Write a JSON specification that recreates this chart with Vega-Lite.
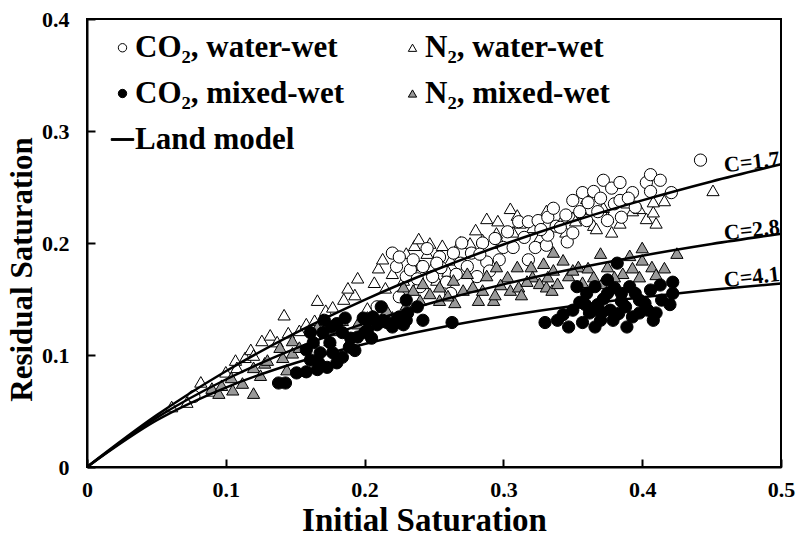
{
  "$schema": "https://vega.github.io/schema/vega-lite/v6.json",
  "width": 694,
  "height": 448,
  "autosize": "none",
  "padding": {"left": 87, "top": 19, "right": 15, "bottom": 73},
  "background": "white",
  "config": {
    "font": "Liberation Serif",
    "view": {"stroke": "black", "strokeWidth": 2},
    "axis": {
      "grid": false,
      "domainColor": "black",
      "domainWidth": 2,
      "ticks": true,
      "tickColor": "black",
      "tickWidth": 2,
      "tickSize": -8,
      "labelFlush": false,
      "labelFont": "Liberation Serif",
      "labelFontWeight": "bold",
      "labelFontSize": 22,
      "labelColor": "black",
      "titleFont": "Liberation Serif",
      "titleFontWeight": "bold",
      "titleFontSize": 31,
      "titleColor": "black"
    },
    "legend": {
      "labelFont": "Liberation Serif", "labelFontWeight": "bold", "labelFontSize": 31, "labelColor": "black", "labelLimit": 400,
      "labelOffset": -3, "symbolSize": 70, "rowPadding": 14, "columnPadding": 52,
      "symbolStrokeColor": "black", "symbolStrokeWidth": 1
    }
  },
  "datasets": {
    "pts": [
      {"g":"N₂, water-wet","x":0.061,"y":0.054},{"g":"N₂, water-wet","x":0.072,"y":0.058},{"g":"N₂, water-wet","x":0.082,"y":0.076},{"g":"N₂, water-wet","x":0.09,"y":0.068},{"g":"N₂, water-wet","x":0.1,"y":0.085},{"g":"N₂, water-wet","x":0.107,"y":0.0955},{"g":"N₂, water-wet","x":0.108,"y":0.089},{"g":"N₂, water-wet","x":0.114,"y":0.098},{"g":"N₂, water-wet","x":0.118,"y":0.105},{"g":"N₂, water-wet","x":0.12,"y":0.1},{"g":"N₂, water-wet","x":0.126,"y":0.113},{"g":"N₂, water-wet","x":0.132,"y":0.118},{"g":"N₂, water-wet","x":0.137,"y":0.112},{"g":"N₂, water-wet","x":0.142,"y":0.136},{"g":"N₂, water-wet","x":0.145,"y":0.12},{"g":"N₂, water-wet","x":0.153,"y":0.122},{"g":"N₂, water-wet","x":0.158,"y":0.128},{"g":"N₂, water-wet","x":0.164,"y":0.131},{"g":"N₂, water-wet","x":0.166,"y":0.149},{"g":"N₂, water-wet","x":0.172,"y":0.14},{"g":"N₂, water-wet","x":0.177,"y":0.143},{"g":"N₂, water-wet","x":0.185,"y":0.15},{"g":"N₂, water-wet","x":0.193,"y":0.154},{"g":"N₂, water-wet","x":0.195,"y":0.169},{"g":"N₂, water-wet","x":0.202,"y":0.142},{"g":"N₂, water-wet","x":0.207,"y":0.165},{"g":"N₂, water-wet","x":0.21,"y":0.178},{"g":"N₂, water-wet","x":0.215,"y":0.16},{"g":"N₂, water-wet","x":0.22,"y":0.173},{"g":"N₂, water-wet","x":0.228,"y":0.167},{"g":"N₂, water-wet","x":0.23,"y":0.191},{"g":"N₂, water-wet","x":0.236,"y":0.198},{"g":"N₂, water-wet","x":0.24,"y":0.18},{"g":"N₂, water-wet","x":0.245,"y":0.191},{"g":"N₂, water-wet","x":0.247,"y":0.2},{"g":"N₂, water-wet","x":0.249,"y":0.179},{"g":"N₂, water-wet","x":0.252,"y":0.167},{"g":"N₂, water-wet","x":0.256,"y":0.198},{"g":"N₂, water-wet","x":0.262,"y":0.185},{"g":"N₂, water-wet","x":0.269,"y":0.201},{"g":"N₂, water-wet","x":0.276,"y":0.2},{"g":"N₂, water-wet","x":0.28,"y":0.212},{"g":"N₂, water-wet","x":0.285,"y":0.203},{"g":"N₂, water-wet","x":0.288,"y":0.222},{"g":"N₂, water-wet","x":0.295,"y":0.209},{"g":"N₂, water-wet","x":0.296,"y":0.22},{"g":"N₂, water-wet","x":0.305,"y":0.231},{"g":"N₂, water-wet","x":0.31,"y":0.225},{"g":"N₂, water-wet","x":0.307,"y":0.21},{"g":"N₂, water-wet","x":0.312,"y":0.218},{"g":"N₂, water-wet","x":0.321,"y":0.214},{"g":"N₂, water-wet","x":0.331,"y":0.229},{"g":"N₂, water-wet","x":0.341,"y":0.218},{"g":"N₂, water-wet","x":0.35,"y":0.223},{"g":"N₂, water-wet","x":0.352,"y":0.22},{"g":"N₂, water-wet","x":0.357,"y":0.246},{"g":"N₂, water-wet","x":0.357,"y":0.228},{"g":"N₂, water-wet","x":0.36,"y":0.24},{"g":"N₂, water-wet","x":0.365,"y":0.216},{"g":"N₂, water-wet","x":0.367,"y":0.213},{"g":"N₂, water-wet","x":0.375,"y":0.223},{"g":"N₂, water-wet","x":0.378,"y":0.21},{"g":"N₂, water-wet","x":0.384,"y":0.218},{"g":"N₂, water-wet","x":0.389,"y":0.236},{"g":"N₂, water-wet","x":0.393,"y":0.229},{"g":"N₂, water-wet","x":0.398,"y":0.231},{"g":"N₂, water-wet","x":0.403,"y":0.222},{"g":"N₂, water-wet","x":0.408,"y":0.228},{"g":"N₂, water-wet","x":0.408,"y":0.237},{"g":"N₂, water-wet","x":0.416,"y":0.238},{"g":"N₂, water-wet","x":0.451,"y":0.247},{"g":"N₂, water-wet","x":0.17,"y":0.132},{"g":"N₂, water-wet","x":0.188,"y":0.16},{"g":"N₂, water-wet","x":0.213,"y":0.186},{"g":"N₂, water-wet","x":0.239,"y":0.204},{"g":"N₂, water-wet","x":0.26,"y":0.175},{"g":"N₂, water-wet","x":0.298,"y":0.2},{"g":"N₂, water-wet","x":0.326,"y":0.205},{"g":"N₂, water-wet","x":0.345,"y":0.21},{"g":"N₂, water-wet","x":0.372,"y":0.232},{"g":"N₂, water-wet","x":0.41,"y":0.218},

      {"g":"CO₂, water-wet","x":0.077,"y":0.063},{"g":"CO₂, water-wet","x":0.209,"y":0.143},{"g":"CO₂, water-wet","x":0.22,"y":0.191},{"g":"CO₂, water-wet","x":0.223,"y":0.179},{"g":"CO₂, water-wet","x":0.225,"y":0.152},{"g":"CO₂, water-wet","x":0.225,"y":0.1875},{"g":"CO₂, water-wet","x":0.23,"y":0.17},{"g":"CO₂, water-wet","x":0.233,"y":0.176},{"g":"CO₂, water-wet","x":0.235,"y":0.185},{"g":"CO₂, water-wet","x":0.24,"y":0.161},{"g":"CO₂, water-wet","x":0.242,"y":0.179},{"g":"CO₂, water-wet","x":0.245,"y":0.195},{"g":"CO₂, water-wet","x":0.249,"y":0.17},{"g":"CO₂, water-wet","x":0.254,"y":0.1875},{"g":"CO₂, water-wet","x":0.255,"y":0.178},{"g":"CO₂, water-wet","x":0.259,"y":0.165},{"g":"CO₂, water-wet","x":0.262,"y":0.155},{"g":"CO₂, water-wet","x":0.264,"y":0.191},{"g":"CO₂, water-wet","x":0.269,"y":0.182},{"g":"CO₂, water-wet","x":0.27,"y":0.2},{"g":"CO₂, water-wet","x":0.274,"y":0.179},{"g":"CO₂, water-wet","x":0.277,"y":0.191},{"g":"CO₂, water-wet","x":0.281,"y":0.17},{"g":"CO₂, water-wet","x":0.285,"y":0.2},{"g":"CO₂, water-wet","x":0.288,"y":0.183},{"g":"CO₂, water-wet","x":0.29,"y":0.175},{"g":"CO₂, water-wet","x":0.294,"y":0.204},{"g":"CO₂, water-wet","x":0.297,"y":0.185},{"g":"CO₂, water-wet","x":0.3,"y":0.196},{"g":"CO₂, water-wet","x":0.307,"y":0.196},{"g":"CO₂, water-wet","x":0.311,"y":0.219},{"g":"CO₂, water-wet","x":0.315,"y":0.205},{"g":"CO₂, water-wet","x":0.318,"y":0.219},{"g":"CO₂, water-wet","x":0.318,"y":0.185},{"g":"CO₂, water-wet","x":0.323,"y":0.196},{"g":"CO₂, water-wet","x":0.325,"y":0.22},{"g":"CO₂, water-wet","x":0.331,"y":0.198},{"g":"CO₂, water-wet","x":0.332,"y":0.207},{"g":"CO₂, water-wet","x":0.332,"y":0.223},{"g":"CO₂, water-wet","x":0.336,"y":0.231},{"g":"CO₂, water-wet","x":0.338,"y":0.215},{"g":"CO₂, water-wet","x":0.341,"y":0.214},{"g":"CO₂, water-wet","x":0.345,"y":0.225},{"g":"CO₂, water-wet","x":0.346,"y":0.201},{"g":"CO₂, water-wet","x":0.35,"y":0.238},{"g":"CO₂, water-wet","x":0.35,"y":0.209},{"g":"CO₂, water-wet","x":0.357,"y":0.245},{"g":"CO₂, water-wet","x":0.36,"y":0.22},{"g":"CO₂, water-wet","x":0.361,"y":0.236},{"g":"CO₂, water-wet","x":0.365,"y":0.246},{"g":"CO₂, water-wet","x":0.368,"y":0.228},{"g":"CO₂, water-wet","x":0.37,"y":0.24},{"g":"CO₂, water-wet","x":0.372,"y":0.256},{"g":"CO₂, water-wet","x":0.375,"y":0.22},{"g":"CO₂, water-wet","x":0.378,"y":0.249},{"g":"CO₂, water-wet","x":0.38,"y":0.235},{"g":"CO₂, water-wet","x":0.384,"y":0.254},{"g":"CO₂, water-wet","x":0.384,"y":0.238},{"g":"CO₂, water-wet","x":0.385,"y":0.223},{"g":"CO₂, water-wet","x":0.393,"y":0.245},{"g":"CO₂, water-wet","x":0.395,"y":0.232},{"g":"CO₂, water-wet","x":0.403,"y":0.254},{"g":"CO₂, water-wet","x":0.406,"y":0.261},{"g":"CO₂, water-wet","x":0.406,"y":0.246},{"g":"CO₂, water-wet","x":0.413,"y":0.256},{"g":"CO₂, water-wet","x":0.421,"y":0.245},{"g":"CO₂, water-wet","x":0.442,"y":0.274},{"g":"CO₂, water-wet","x":0.238,"y":0.168},{"g":"CO₂, water-wet","x":0.252,"y":0.182},{"g":"CO₂, water-wet","x":0.266,"y":0.172},{"g":"CO₂, water-wet","x":0.283,"y":0.19},{"g":"CO₂, water-wet","x":0.303,"y":0.21},{"g":"CO₂, water-wet","x":0.327,"y":0.212},{"g":"CO₂, water-wet","x":0.355,"y":0.228},{"g":"CO₂, water-wet","x":0.39,"y":0.24},

      {"g":"N₂, mixed-wet","x":0.09,"y":0.0705},{"g":"N₂, mixed-wet","x":0.095,"y":0.066},{"g":"N₂, mixed-wet","x":0.097,"y":0.073},{"g":"N₂, mixed-wet","x":0.104,"y":0.08},{"g":"N₂, mixed-wet","x":0.105,"y":0.069},{"g":"N₂, mixed-wet","x":0.112,"y":0.075},{"g":"N₂, mixed-wet","x":0.12,"y":0.066},{"g":"N₂, mixed-wet","x":0.12,"y":0.089},{"g":"N₂, mixed-wet","x":0.125,"y":0.082},{"g":"N₂, mixed-wet","x":0.128,"y":0.093},{"g":"N₂, mixed-wet","x":0.13,"y":0.0955},{"g":"N₂, mixed-wet","x":0.139,"y":0.107},{"g":"N₂, mixed-wet","x":0.141,"y":0.098},{"g":"N₂, mixed-wet","x":0.144,"y":0.087},{"g":"N₂, mixed-wet","x":0.148,"y":0.102},{"g":"N₂, mixed-wet","x":0.148,"y":0.113},{"g":"N₂, mixed-wet","x":0.153,"y":0.107},{"g":"N₂, mixed-wet","x":0.163,"y":0.113},{"g":"N₂, mixed-wet","x":0.166,"y":0.125},{"g":"N₂, mixed-wet","x":0.175,"y":0.113},{"g":"N₂, mixed-wet","x":0.177,"y":0.122},{"g":"N₂, mixed-wet","x":0.184,"y":0.131},{"g":"N₂, mixed-wet","x":0.195,"y":0.128},{"g":"N₂, mixed-wet","x":0.202,"y":0.134},{"g":"N₂, mixed-wet","x":0.216,"y":0.14},{"g":"N₂, mixed-wet","x":0.22,"y":0.134},{"g":"N₂, mixed-wet","x":0.228,"y":0.161},{"g":"N₂, mixed-wet","x":0.23,"y":0.145},{"g":"N₂, mixed-wet","x":0.235,"y":0.158},{"g":"N₂, mixed-wet","x":0.24,"y":0.149},{"g":"N₂, mixed-wet","x":0.242,"y":0.164},{"g":"N₂, mixed-wet","x":0.254,"y":0.161},{"g":"N₂, mixed-wet","x":0.254,"y":0.149},{"g":"N₂, mixed-wet","x":0.264,"y":0.167},{"g":"N₂, mixed-wet","x":0.265,"y":0.147},{"g":"N₂, mixed-wet","x":0.271,"y":0.158},{"g":"N₂, mixed-wet","x":0.274,"y":0.173},{"g":"N₂, mixed-wet","x":0.278,"y":0.161},{"g":"N₂, mixed-wet","x":0.282,"y":0.149},{"g":"N₂, mixed-wet","x":0.285,"y":0.158},{"g":"N₂, mixed-wet","x":0.288,"y":0.171},{"g":"N₂, mixed-wet","x":0.293,"y":0.149},{"g":"N₂, mixed-wet","x":0.294,"y":0.154},{"g":"N₂, mixed-wet","x":0.295,"y":0.179},{"g":"N₂, mixed-wet","x":0.303,"y":0.17},{"g":"N₂, mixed-wet","x":0.305,"y":0.158},{"g":"N₂, mixed-wet","x":0.31,"y":0.179},{"g":"N₂, mixed-wet","x":0.311,"y":0.161},{"g":"N₂, mixed-wet","x":0.313,"y":0.154},{"g":"N₂, mixed-wet","x":0.32,"y":0.179},{"g":"N₂, mixed-wet","x":0.321,"y":0.17},{"g":"N₂, mixed-wet","x":0.326,"y":0.164},{"g":"N₂, mixed-wet","x":0.329,"y":0.182},{"g":"N₂, mixed-wet","x":0.331,"y":0.161},{"g":"N₂, mixed-wet","x":0.332,"y":0.17},{"g":"N₂, mixed-wet","x":0.335,"y":0.158},{"g":"N₂, mixed-wet","x":0.336,"y":0.192},{"g":"N₂, mixed-wet","x":0.336,"y":0.176},{"g":"N₂, mixed-wet","x":0.339,"y":0.164},{"g":"N₂, mixed-wet","x":0.343,"y":0.185},{"g":"N₂, mixed-wet","x":0.347,"y":0.171},{"g":"N₂, mixed-wet","x":0.354,"y":0.179},{"g":"N₂, mixed-wet","x":0.357,"y":0.165},{"g":"N₂, mixed-wet","x":0.361,"y":0.178},{"g":"N₂, mixed-wet","x":0.365,"y":0.17},{"g":"N₂, mixed-wet","x":0.37,"y":0.191},{"g":"N₂, mixed-wet","x":0.371,"y":0.164},{"g":"N₂, mixed-wet","x":0.375,"y":0.179},{"g":"N₂, mixed-wet","x":0.386,"y":0.173},{"g":"N₂, mixed-wet","x":0.391,"y":0.189},{"g":"N₂, mixed-wet","x":0.393,"y":0.178},{"g":"N₂, mixed-wet","x":0.398,"y":0.17},{"g":"N₂, mixed-wet","x":0.4,"y":0.196},{"g":"N₂, mixed-wet","x":0.4,"y":0.185},{"g":"N₂, mixed-wet","x":0.407,"y":0.179},{"g":"N₂, mixed-wet","x":0.416,"y":0.178},{"g":"N₂, mixed-wet","x":0.425,"y":0.191},{"g":"N₂, mixed-wet","x":0.247,"y":0.155},{"g":"N₂, mixed-wet","x":0.26,"y":0.153},{"g":"N₂, mixed-wet","x":0.298,"y":0.163},{"g":"N₂, mixed-wet","x":0.317,"y":0.166},{"g":"N₂, mixed-wet","x":0.35,"y":0.176},{"g":"N₂, mixed-wet","x":0.38,"y":0.17},{"g":"N₂, mixed-wet","x":0.41,"y":0.172},

      {"g":"CO₂, mixed-wet","x":0.138,"y":0.075},{"g":"CO₂, mixed-wet","x":0.143,"y":0.075},{"g":"CO₂, mixed-wet","x":0.151,"y":0.084},{"g":"CO₂, mixed-wet","x":0.158,"y":0.085},{"g":"CO₂, mixed-wet","x":0.158,"y":0.1045},{"g":"CO₂, mixed-wet","x":0.161,"y":0.0955},{"g":"CO₂, mixed-wet","x":0.161,"y":0.12},{"g":"CO₂, mixed-wet","x":0.163,"y":0.111},{"g":"CO₂, mixed-wet","x":0.166,"y":0.087},{"g":"CO₂, mixed-wet","x":0.168,"y":0.102},{"g":"CO₂, mixed-wet","x":0.17,"y":0.12},{"g":"CO₂, mixed-wet","x":0.171,"y":0.131},{"g":"CO₂, mixed-wet","x":0.173,"y":0.089},{"g":"CO₂, mixed-wet","x":0.176,"y":0.125},{"g":"CO₂, mixed-wet","x":0.175,"y":0.111},{"g":"CO₂, mixed-wet","x":0.177,"y":0.102},{"g":"CO₂, mixed-wet","x":0.18,"y":0.128},{"g":"CO₂, mixed-wet","x":0.184,"y":0.098},{"g":"CO₂, mixed-wet","x":0.184,"y":0.12},{"g":"CO₂, mixed-wet","x":0.186,"y":0.133},{"g":"CO₂, mixed-wet","x":0.19,"y":0.115},{"g":"CO₂, mixed-wet","x":0.189,"y":0.107},{"g":"CO₂, mixed-wet","x":0.195,"y":0.116},{"g":"CO₂, mixed-wet","x":0.199,"y":0.133},{"g":"CO₂, mixed-wet","x":0.2,"y":0.12},{"g":"CO₂, mixed-wet","x":0.202,"y":0.131},{"g":"CO₂, mixed-wet","x":0.202,"y":0.122},{"g":"CO₂, mixed-wet","x":0.206,"y":0.134},{"g":"CO₂, mixed-wet","x":0.209,"y":0.127},{"g":"CO₂, mixed-wet","x":0.212,"y":0.143},{"g":"CO₂, mixed-wet","x":0.213,"y":0.131},{"g":"CO₂, mixed-wet","x":0.216,"y":0.129},{"g":"CO₂, mixed-wet","x":0.22,"y":0.125},{"g":"CO₂, mixed-wet","x":0.223,"y":0.131},{"g":"CO₂, mixed-wet","x":0.225,"y":0.134},{"g":"CO₂, mixed-wet","x":0.228,"y":0.127},{"g":"CO₂, mixed-wet","x":0.23,"y":0.149},{"g":"CO₂, mixed-wet","x":0.23,"y":0.131},{"g":"CO₂, mixed-wet","x":0.231,"y":0.1375},{"g":"CO₂, mixed-wet","x":0.238,"y":0.143},{"g":"CO₂, mixed-wet","x":0.242,"y":0.131},{"g":"CO₂, mixed-wet","x":0.263,"y":0.129},{"g":"CO₂, mixed-wet","x":0.167,"y":0.093},{"g":"CO₂, mixed-wet","x":0.18,"y":0.093},{"g":"CO₂, mixed-wet","x":0.193,"y":0.104},{"g":"CO₂, mixed-wet","x":0.205,"y":0.115},
      {"g":"CO₂, mixed-wet","x":0.33,"y":0.129},{"g":"CO₂, mixed-wet","x":0.339,"y":0.131},{"g":"CO₂, mixed-wet","x":0.343,"y":0.136},{"g":"CO₂, mixed-wet","x":0.35,"y":0.14},{"g":"CO₂, mixed-wet","x":0.353,"y":0.161},{"g":"CO₂, mixed-wet","x":0.355,"y":0.147},{"g":"CO₂, mixed-wet","x":0.357,"y":0.129},{"g":"CO₂, mixed-wet","x":0.36,"y":0.155},{"g":"CO₂, mixed-wet","x":0.362,"y":0.1375},{"g":"CO₂, mixed-wet","x":0.365,"y":0.14},{"g":"CO₂, mixed-wet","x":0.366,"y":0.161},{"g":"CO₂, mixed-wet","x":0.366,"y":0.125},{"g":"CO₂, mixed-wet","x":0.368,"y":0.145},{"g":"CO₂, mixed-wet","x":0.37,"y":0.131},{"g":"CO₂, mixed-wet","x":0.372,"y":0.15},{"g":"CO₂, mixed-wet","x":0.375,"y":0.155},{"g":"CO₂, mixed-wet","x":0.375,"y":0.167},{"g":"CO₂, mixed-wet","x":0.377,"y":0.14},{"g":"CO₂, mixed-wet","x":0.379,"y":0.131},{"g":"CO₂, mixed-wet","x":0.38,"y":0.16},{"g":"CO₂, mixed-wet","x":0.382,"y":0.182},{"g":"CO₂, mixed-wet","x":0.385,"y":0.155},{"g":"CO₂, mixed-wet","x":0.385,"y":0.148},{"g":"CO₂, mixed-wet","x":0.388,"y":0.143},{"g":"CO₂, mixed-wet","x":0.389,"y":0.125},{"g":"CO₂, mixed-wet","x":0.391,"y":0.161},{"g":"CO₂, mixed-wet","x":0.393,"y":0.134},{"g":"CO₂, mixed-wet","x":0.395,"y":0.155},{"g":"CO₂, mixed-wet","x":0.398,"y":0.149},{"g":"CO₂, mixed-wet","x":0.398,"y":0.1375},{"g":"CO₂, mixed-wet","x":0.404,"y":0.14},{"g":"CO₂, mixed-wet","x":0.406,"y":0.158},{"g":"CO₂, mixed-wet","x":0.408,"y":0.131},{"g":"CO₂, mixed-wet","x":0.41,"y":0.1375},{"g":"CO₂, mixed-wet","x":0.413,"y":0.1625},{"g":"CO₂, mixed-wet","x":0.414,"y":0.149},{"g":"CO₂, mixed-wet","x":0.42,"y":0.145},{"g":"CO₂, mixed-wet","x":0.422,"y":0.165},{"g":"CO₂, mixed-wet","x":0.422,"y":0.155},{"g":"CO₂, mixed-wet","x":0.359,"y":0.145},{"g":"CO₂, mixed-wet","x":0.371,"y":0.138},{"g":"CO₂, mixed-wet","x":0.383,"y":0.137},{"g":"CO₂, mixed-wet","x":0.402,"y":0.146},{"g":"CO₂, mixed-wet","x":0.347,"y":0.125}
    ],
    "land": [
      {"c":"1.7","x":0,"y":0},{"c":"1.7","x":0.05,"y":0.04608},{"c":"1.7","x":0.1,"y":0.08547},{"c":"1.7","x":0.15,"y":0.11952},{"c":"1.7","x":0.2,"y":0.14925},{"c":"1.7","x":0.25,"y":0.17544},{"c":"1.7","x":0.3,"y":0.19868},{"c":"1.7","x":0.35,"y":0.21944},{"c":"1.7","x":0.4,"y":0.2381},{"c":"1.7","x":0.45,"y":0.25496},{"c":"1.7","x":0.5,"y":0.27027},
      {"c":"2.8","x":0,"y":0},{"c":"2.8","x":0.05,"y":0.04386},{"c":"2.8","x":0.1,"y":0.078125},{"c":"2.8","x":0.15,"y":0.10563},{"c":"2.8","x":0.2,"y":0.12821},{"c":"2.8","x":0.25,"y":0.14706},{"c":"2.8","x":0.3,"y":0.16304},{"c":"2.8","x":0.35,"y":0.17677},{"c":"2.8","x":0.4,"y":0.18868},{"c":"2.8","x":0.45,"y":0.19912},{"c":"2.8","x":0.5,"y":0.20833},
      {"c":"4.1","x":0,"y":0},{"c":"4.1","x":0.05,"y":0.04149},{"c":"4.1","x":0.1,"y":0.07092},{"c":"4.1","x":0.15,"y":0.09288},{"c":"4.1","x":0.2,"y":0.10989},{"c":"4.1","x":0.25,"y":0.12346},{"c":"4.1","x":0.3,"y":0.13453},{"c":"4.1","x":0.35,"y":0.14374},{"c":"4.1","x":0.4,"y":0.15152},{"c":"4.1","x":0.45,"y":0.15817},{"c":"4.1","x":0.5,"y":0.16393}
    ],
    "lab": [
      {"t":"C=1.7","x":0.479,"y":0.2723},
      {"t":"C=2.8","x":0.479,"y":0.2116},
      {"t":"C=4.1","x":0.479,"y":0.1696}
    ]
  },
  "layer": [
    {
      "data": {"name": "pts"},
      "mark": {"type": "point", "filled": true, "strokeWidth": 1, "opacity": 1, "size": 150},
      "encoding": {
        "x": {"field": "x", "type": "quantitative", "scale": {"domain": [0, 0.5], "nice": false},
          "axis": {"values": [0, 0.1, 0.2, 0.3, 0.4, 0.5], "format": "~g", "title": "Initial Saturation", "labelPadding": 20, "titlePadding": 4, "titleFontSize": 33, "titleX": 337}},
        "y": {"field": "y", "type": "quantitative", "scale": {"domain": [0, 0.4], "nice": false},
          "axis": {"values": [0, 0.1, 0.2, 0.3, 0.4], "format": "~g", "title": "Residual Saturation", "labelPadding": 26, "titlePadding": 3, "titleFontSize": 31, "titleY": 250}},
        "shape": {"field": "g", "type": "nominal",
          "scale": {"domain": ["CO₂, water-wet", "N₂, water-wet", "CO₂, mixed-wet", "N₂, mixed-wet", "Land model"],
                    "range": ["circle", "triangle-up", "circle", "triangle-up", "M-2.7,-0.22H2.7V0.22H-2.7Z"]},
          "legend": {"orient": "none", "legendX": 20, "legendY": 13, "columns": 2, "direction": "horizontal", "title": null}},
        "fill": {"field": "g", "type": "nominal",
          "scale": {"domain": ["CO₂, water-wet", "N₂, water-wet", "CO₂, mixed-wet", "N₂, mixed-wet", "Land model"],
                    "range": ["white", "white", "black", "#999999", "black"]},
          "legend": {"orient": "none", "legendX": 20, "legendY": 13, "columns": 2, "direction": "horizontal", "title": null}},
        "stroke": {"field": "g", "type": "nominal",
          "scale": {"domain": ["CO₂, water-wet", "N₂, water-wet", "CO₂, mixed-wet", "N₂, mixed-wet", "Land model"],
                    "range": ["black", "black", "black", "black", "black"]},
          "legend": {"orient": "none", "legendX": 20, "legendY": 13, "columns": 2, "direction": "horizontal", "title": null}}
      }
    },
    {
      "data": {"name": "land"},
      "mark": {"type": "line", "color": "black", "strokeWidth": 2.5, "interpolate": "monotone"},
      "encoding": {
        "x": {"field": "x", "type": "quantitative"},
        "y": {"field": "y", "type": "quantitative"},
        "detail": {"field": "c"}
      }
    },
    {
      "data": {"name": "lab"},
      "mark": {"type": "text", "font": "Liberation Serif", "fontWeight": "bold", "fontSize": 22, "angle": -6.5, "color": "black", "align": "center", "baseline": "middle"},
      "encoding": {
        "x": {"field": "x", "type": "quantitative"},
        "y": {"field": "y", "type": "quantitative"},
        "text": {"field": "t"}
      }
    }
  ]
}
